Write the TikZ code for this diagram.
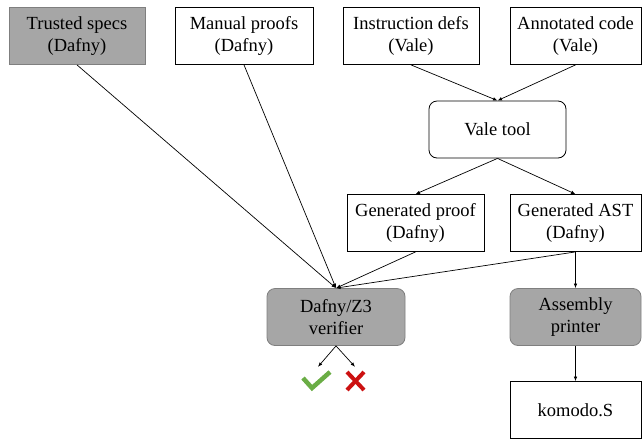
\documentclass[tikz,border=0pt]{standalone}
\usepackage{fontspec}
\setmainfont{Liberation Serif}
\usetikzlibrary{arrows.meta}
\definecolor{boxgray}{HTML}{A6A6A6}
\definecolor{edgegray}{HTML}{7F7F7F}
\definecolor{okgreen}{HTML}{6AAD45}
\definecolor{badred}{HTML}{CC1111}
\tikzset{%
    box/.style={rectangle, draw=black, line width=0.8pt, fill=white, align=center, inner sep=2pt,
                font=\fontsize{18.5}{22}\selectfont, minimum height=57pt},
    gbox/.style={box, draw=edgegray, fill=boxgray},
    rbox/.style={box, rounded corners=8pt},
    grbox/.style={gbox, rounded corners=8pt},
    res/.style={inner sep=0pt, minimum width=26pt, minimum height=26pt},
    arr/.style={line width=0.7pt, -{Latex[length=4.5pt, width=3.5pt]}},
}
\begin{document}
\begin{tikzpicture}[x=1pt, y=-1pt]
    \useasboundingbox (0,0) rectangle (642,440);
    % inputs
    \node[gbox, minimum width=136pt] (trusted) at (77,36) {Trusted specs\\(Dafny)};
    \node[box, minimum width=138pt] (manual) at (244,36) {Manual proofs\\(Dafny)};
    \node[box, minimum width=136pt] (instr) at (411,36) {Instruction defs\\(Vale)};
    \node[box, minimum width=131pt] (annot) at (575.5,36) {Annotated code\\(Vale)};
    % tool and outputs
    \node[rbox, minimum width=137pt] (vale) at (497.5,129.5) {Vale tool};
    \node[box, minimum width=137pt] (genproof) at (415.5,223) {Generated proof\\(Dafny)};
    \node[box, minimum width=131pt] (genast) at (575.5,223) {Generated AST\\(Dafny)};
    \node[grbox, minimum width=138pt] (verifier) at (336,317) {Dafny/Z3\\verifier};
    \node[grbox, minimum width=131pt] (printer) at (575.5,317) {Assembly\\printer};
    \node[box, minimum width=131pt] (komodo) at (575.5,410) {komodo.S};
    % verdicts
    \node[res] (ok) at (318,380) {};
    \node[res] (fail) at (355,380) {};
    \draw[okgreen, line width=4.5pt] (303,378) -- (312,388) -- (330,372);
    \draw[badred, line width=4pt] (347,372) -- (364,390) (364,372) -- (347,390);
    % edges
    \draw[arr] (instr.south) -- (vale.north);
    \draw[arr] (annot.south) -- (vale.north);
    \draw[arr] (vale.south) -- (genproof.north);
    \draw[arr] (vale.south) -- (genast.north);
    \draw[arr] (trusted.south) -- (verifier.north);
    \draw[arr] (manual.south) -- (verifier.north);
    \draw[arr] (genproof.south) -- (verifier.north);
    \draw[arr] (genast.south) -- (verifier.north);
    \draw[arr] (genast.south) -- (printer.north);
    \draw[arr] (printer.south) -- (komodo.north);
    \draw[arr] (verifier.south) -- (ok.north);
    \draw[arr] (verifier.south) -- (fail.north);
\end{tikzpicture}
\end{document}
